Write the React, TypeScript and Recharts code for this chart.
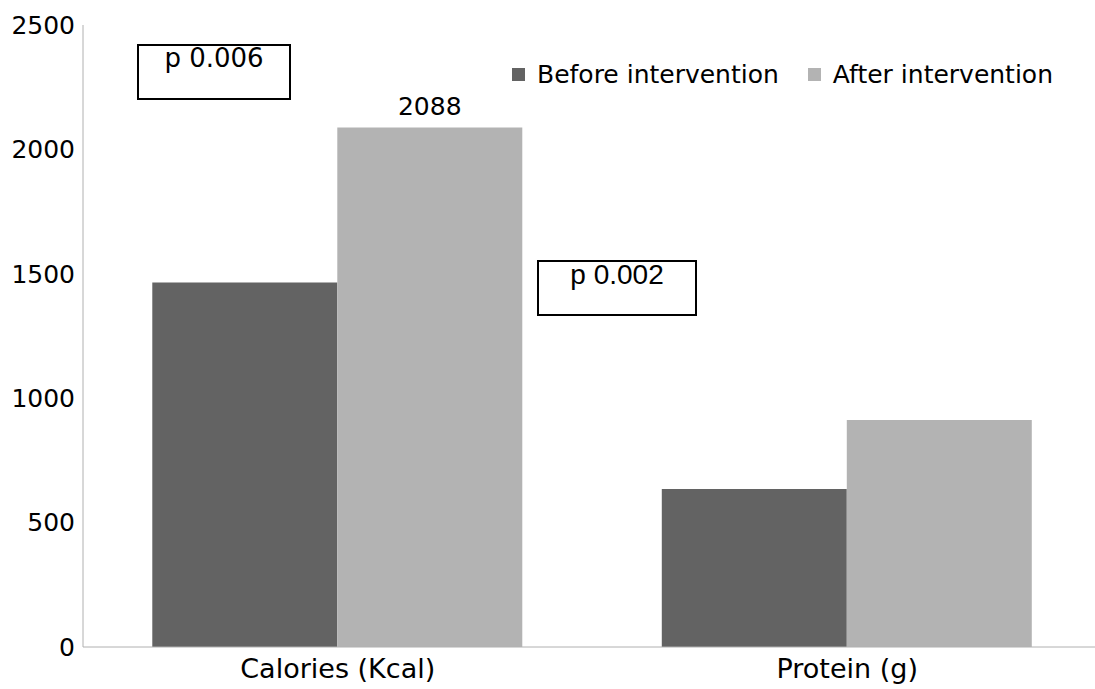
import { Bar, BarChart, LabelList, XAxis, YAxis } from 'recharts';

const categories = ['Calories (Kcal)', 'Protein (g)'];
const beforeValues = [1465, 635];
const afterValues = [2088, 912];
const shownLabels = ['2088', ''];
const yTicks = [0, 500, 1000, 1500, 2000, 2500];
const seriesNames = ['Before intervention', 'After intervention'];

const COLORS = { before: '#636363', after: '#b3b3b3', axis: '#b0b0b0' };
const FONT = '"DejaVu Sans", sans-serif';

const data = categories.map((name, i) => ({
  name,
  before: beforeValues[i],
  after: afterValues[i],
  label: shownLabels[i],
}));

function LegendBox() {
  const colors = [COLORS.before, COLORS.after];
  return (
    <div
      style={{
        position: 'absolute',
        left: 512,
        top: 60,
        display: 'flex',
        fontFamily: FONT,
        fontSize: 25,
        color: '#000',
        whiteSpace: 'nowrap',
      }}
    >
      {seriesNames.map((name, i) => (
        <div key={name} style={{ display: 'flex', alignItems: 'center', marginRight: 29 }}>
          <span
            style={{ width: 13, height: 13, background: colors[i], display: 'inline-block', marginRight: 12 }}
          />
          {name}
        </div>
      ))}
    </div>
  );
}

export default function App() {
  return (
    <div
      style={{
        position: 'absolute',
        left: 0,
        top: 0,
        width: 1095,
        height: 689,
        overflow: 'hidden',
        background: '#fff',
      }}
    >
      <BarChart
        width={1102}
        height={689}
        data={data}
        margin={{ top: 25, right: 0, left: 0, bottom: 0 }}
        barGap={0}
        barCategoryGap="13.6%"
      >
        <XAxis
          dataKey="name"
          height={42}
          tickSize={0}
          tickMargin={12}
          stroke={COLORS.axis}
          tick={{ fill: '#000', fontSize: 27, fontFamily: FONT }}
        />
        <YAxis
          width={83}
          domain={[0, 2500]}
          ticks={yTicks}
          tickSize={0}
          tickMargin={8}
          stroke={COLORS.axis}
          tick={{ fill: '#000', fontSize: 25, fontFamily: FONT }}
        />
        <Bar dataKey="before" name={seriesNames[0]} fill={COLORS.before} isAnimationActive={false} />
        <Bar dataKey="after" name={seriesNames[1]} fill={COLORS.after} isAnimationActive={false}>
          <LabelList
            dataKey="label"
            position="top"
            offset={13}
            style={{ fill: '#000', fontSize: 25, fontFamily: FONT }}
          />
        </Bar>
      </BarChart>
      <LegendBox />
      <div
        style={{
          position: 'absolute',
          left: 137,
          top: 44,
          width: 150,
          height: 52,
          border: '2px solid #000',
          textAlign: 'center',
          fontFamily: FONT,
          fontSize: 26,
          lineHeight: '24px',
        }}
      >
        p 0.006
      </div>
      <div
        style={{
          position: 'absolute',
          left: 537,
          top: 260,
          width: 156,
          height: 52,
          border: '2px solid #000',
          textAlign: 'center',
          fontFamily: '"Liberation Sans", Arial, sans-serif',
          fontSize: 28,
          lineHeight: '26px',
        }}
      >
        p 0.002
      </div>
    </div>
  );
}
